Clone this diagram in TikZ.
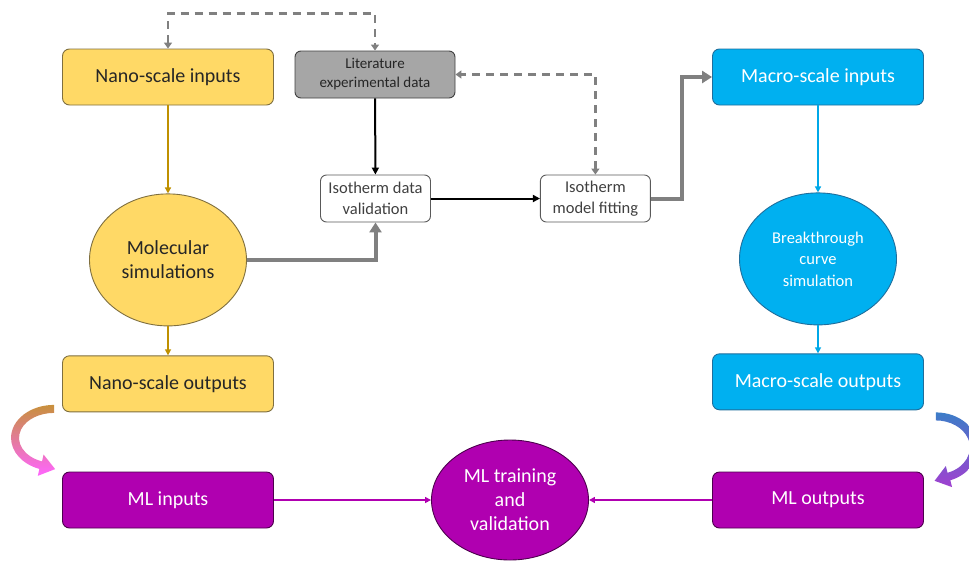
\documentclass[tikz,border=0pt]{standalone}
\usepackage{fontspec}
\setmainfont{Carlito}
\usetikzlibrary{shapes,arrows}
\usetikzlibrary{calc}
\usetikzlibrary{shapes.geometric,arrows.meta,positioning}

\definecolor{nanofill}{HTML}{FFD966}
\definecolor{nanoedge}{HTML}{7F6F3F}
\definecolor{goldline}{HTML}{BF9000}
\definecolor{macrofill}{HTML}{00B0F0}
\definecolor{macroedge}{HTML}{1F6E9C}
\definecolor{blueline}{HTML}{00A8E8}
\definecolor{mlfill}{HTML}{B000B0}
\definecolor{mledge}{HTML}{4D004D}
\definecolor{litfill}{HTML}{A6A6A6}
\definecolor{darkedge}{HTML}{404040}
\definecolor{isoedge}{HTML}{595959}
\definecolor{grayline}{HTML}{808080}
\definecolor{textdark}{HTML}{262626}
\definecolor{lefttop}{HTML}{C8903C}
\definecolor{leftbot}{HTML}{FF66FF}
\definecolor{righttop}{HTML}{3C7DC8}
\definecolor{rightbot}{HTML}{A040D0}

\begin{document}
\begin{tikzpicture}[x=1pt,y=-1pt]
		\tikzstyle{bigbox} = [draw,line width=0.9pt,rounded corners=7pt,minimum width=211pt,minimum height=56pt,inner sep=0pt,align=center,font=\fontsize{20}{24}\selectfont]
		\tikzstyle{smallbox} = [draw,line width=0.9pt,rounded corners=6pt,minimum width=110pt,minimum height=47pt,inner sep=0pt,align=center]
		\tikzstyle{bigsim} = [ellipse,draw,line width=0.9pt,minimum width=157pt,minimum height=132pt,inner sep=0pt,align=center]
		\tikzstyle{nanobox} = [bigbox,fill=nanofill,draw=nanoedge,text=textdark]
		\tikzstyle{macrobox} = [bigbox,fill=macrofill,draw=macroedge,text=white]
		\tikzstyle{mlbox} = [bigbox,fill=mlfill,draw=mledge,text=white]
		\tikzstyle{litbox} = [smallbox,minimum width=160pt,fill=litfill,draw=darkedge,text=textdark,font=\fontsize{15}{19}\selectfont]
		\tikzstyle{isobox} = [smallbox,fill=white,draw=isoedge,text=darkedge,font=\fontsize{16.5}{20.5}\selectfont]
		\tikzstyle{goldarrow} = [-{Triangle[length=6pt,width=6pt]},line width=1.4pt,goldline]
		\tikzstyle{bluearrow} = [-{Triangle[length=6pt,width=6pt]},line width=1.4pt,blueline]
		\tikzstyle{purplearrow} = [-{Triangle[length=6pt,width=6pt]},line width=1.4pt,mlfill]
		\tikzstyle{blackarrow} = [-{Triangle[length=7pt,width=7pt]},line width=2pt,black]
		\tikzstyle{grayarrow} = [-{Triangle[length=10pt,width=12pt]},line width=4pt,grayline]
		\tikzstyle{dasharrow} = [{Triangle[length=6pt,width=8pt]}-{Triangle[length=6pt,width=8pt]},line width=2.5pt,grayline,dash pattern=on 8pt off 6pt]

		\useasboundingbox (0,0) rectangle (969,560);

		% Nano-scale column
		\node [nanobox] (nanoin) at (168,77) {Nano-scale inputs};
		\node [bigsim, fill=nanofill, draw=nanoedge, text=textdark, font=\fontsize{20}{24}\selectfont, below=88pt of nanoin] (molsim) {Molecular\\simulations};
		\node [nanobox, below=29pt of molsim] (nanoout) {Nano-scale outputs};

		% Isotherm nodes
		\node [litbox] (lit) at (375,74.5) {Literature\\experimental data};
		\node [isobox] (valid) at (375.5,198.5) {Isotherm data\\validation};
		\node [isobox, right=109pt of valid] (fit) {Isotherm\\model fitting};

		% Macro-scale column
		\node [macrobox] (macroin) at (818,77) {Macro-scale inputs};
		\node [bigsim, fill=macrofill, draw=macroedge, text=white, font=\fontsize{16.5}{21.5}\selectfont, below=87pt of macroin] (breakthru) {Breakthrough\\curve\\simulation};
		\node [macrobox, below=28pt of breakthru] (macroout) {Macro-scale outputs};

		% ML row
		\node [mlbox] (mlin) at (168,500) {ML inputs};
		\node [mlbox] (mlout) at (818,500) {ML outputs};
		\node [bigsim, fill=mlfill, draw=mledge, text=white, minimum height=120pt, font=\fontsize{20}{24}\selectfont] (mltrain) at (510,500) {ML training\\and\\validation};

		% Connectors
		\draw [goldarrow] (nanoin) -- (molsim);
		\draw [goldarrow] (molsim) -- (nanoout);
		\draw [grayarrow] (molsim.east) -| (valid.south);
		\draw [blackarrow] (lit) -- (valid);
		\draw [blackarrow] (valid) -- (fit);
		\draw [grayarrow] (fit.east) -- ++(31,0) |- (macroin.west);
		\draw [dasharrow] (nanoin.north) -- ++(0,-35) -| (lit.north);
		\draw [dasharrow] (fit.north) |- (lit.east);
		\draw [bluearrow] (macroin) -- (breakthru);
		\draw [bluearrow] (breakthru) -- (macroout);
		\draw [purplearrow] (mlin) -- (mltrain);
		\draw [purplearrow] (mlout) -- (mltrain);

		% Curved arrows into the ML row
		\coordinate (lc) at ($(nanoout.south west)!0.5!(mlin.north west)+(-8,-4)$);
		\shade [top color=lefttop, bottom color=leftbot] (lc) ++(0,-33) arc [start angle=270, end angle=110, x radius=43, y radius=33]
		  -- ($(lc)+(-16.2,37.9)$) -- ($(lc)+(1.1,31.2)$) -- ($(lc)+(-10.5,16.6)$) -- ($(lc)+(-12,23.5)$)
		  arc [start angle=110, end angle=270, x radius=35, y radius=25] -- cycle;
		\coordinate (rc) at ($(macroout.south east)!0.5!(mlout.north east)+(12,6.5)$);
		\shade [top color=righttop, bottom color=rightbot] (rc) ++(0,-35) arc [start angle=270, end angle=430, x radius=42, y radius=35]
		  -- ($(rc)+(16.1,39.7)$) -- ($(rc)+(-1.4,33.4)$) -- ($(rc)+(9.9,18.6)$) -- ($(rc)+(11.6,25.4)$)
		  arc [start angle=430, end angle=270, x radius=34, y radius=27] -- cycle;
	\end{tikzpicture}
\end{document}
